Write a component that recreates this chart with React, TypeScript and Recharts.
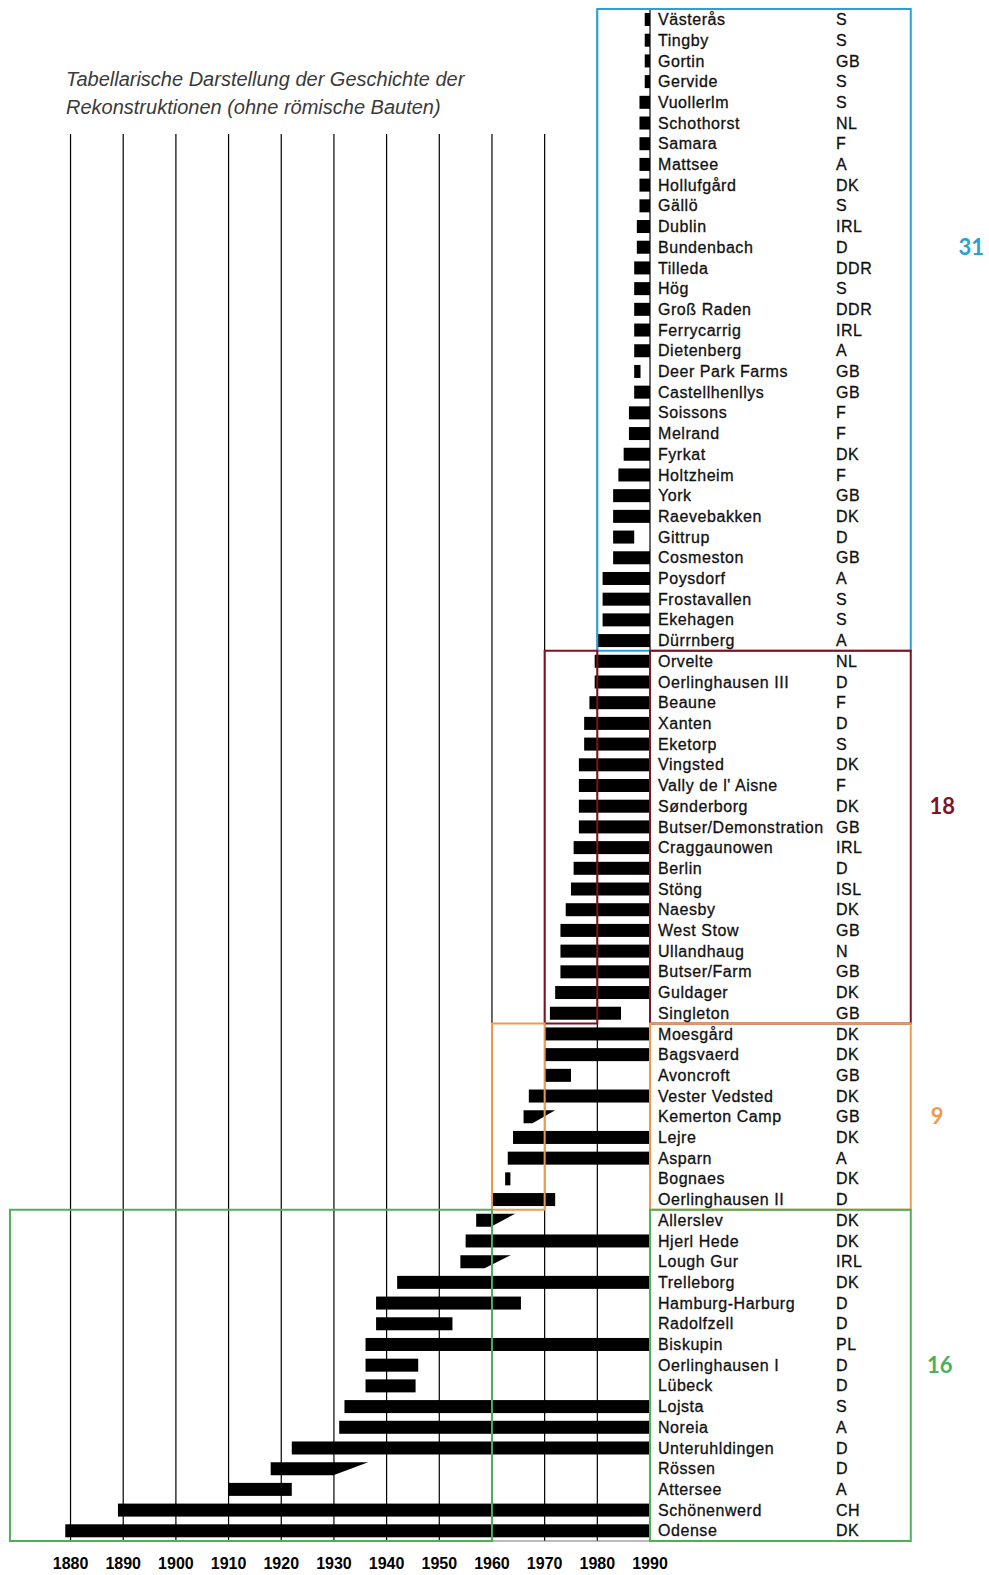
import React from 'react';
import { BarChart, Bar, XAxis, YAxis, CartesianGrid, ReferenceArea, ReferenceDot } from 'recharts';

// Reconstructed open-air sites, top to bottom as printed
const SITES = [
  'Västerås', 'Tingby', 'Gortin', 'Gervide', 'Vuollerlm', 'Schothorst', 'Samara', 'Mattsee', 'Hollufgård', 'Gällö',
  'Dublin', 'Bundenbach', 'Tilleda', 'Hög', 'Groß Raden', 'Ferrycarrig', 'Dietenberg', 'Deer Park Farms', 'Castellhenllys', 'Soissons',
  'Melrand', 'Fyrkat', 'Holtzheim', 'York', 'Raevebakken', 'Gittrup', 'Cosmeston', 'Poysdorf', 'Frostavallen', 'Ekehagen',
  'Dürrnberg',
  'Orvelte', 'Oerlinghausen III', 'Beaune', 'Xanten', 'Eketorp', 'Vingsted', "Vally de l' Aisne", 'Sønderborg', 'Butser/Demonstration',
  'Craggaunowen', 'Berlin', 'Stöng', 'Naesby', 'West Stow', 'Ullandhaug', 'Butser/Farm', 'Guldager', 'Singleton',
  'Moesgård', 'Bagsvaerd', 'Avoncroft', 'Vester Vedsted', 'Kemerton Camp', 'Lejre', 'Asparn', 'Bognaes', 'Oerlinghausen II',
  'Allerslev', 'Hjerl Hede', 'Lough Gur', 'Trelleborg', 'Hamburg-Harburg', 'Radolfzell', 'Biskupin', 'Oerlinghausen I', 'Lübeck', 'Lojsta',
  'Noreia', 'Unteruhldingen', 'Rössen', 'Attersee', 'Schönenwerd', 'Odense',
];

const COUNTRIES = [
  'S', 'S', 'GB', 'S', 'S', 'NL', 'F', 'A', 'DK', 'S',
  'IRL', 'D', 'DDR', 'S', 'DDR', 'IRL', 'A', 'GB', 'GB', 'F',
  'F', 'DK', 'F', 'GB', 'DK', 'D', 'GB', 'A', 'S', 'S',
  'A',
  'NL', 'D', 'F', 'D', 'S', 'DK', 'F', 'DK', 'GB',
  'IRL', 'D', 'ISL', 'DK', 'GB', 'N', 'GB', 'DK', 'GB',
  'DK', 'DK', 'GB', 'DK', 'GB', 'DK', 'A', 'DK', 'D',
  'DK', 'DK', 'IRL', 'DK', 'D', 'D', 'PL', 'D', 'D', 'S',
  'A', 'D', 'D', 'A', 'CH', 'DK',
];

const START_YEARS = [
  1989, 1989, 1989, 1989, 1988, 1988, 1988, 1988, 1988, 1988,
  1987.5, 1987.5, 1987, 1987, 1987, 1987, 1987, 1987, 1987, 1986,
  1986, 1985, 1984, 1983, 1983, 1983, 1983, 1981, 1981, 1981,
  1980,
  1979.5, 1979.5, 1978.5, 1977.5, 1977.5, 1976.5, 1976.5, 1976.5, 1976.5,
  1975.5, 1975.5, 1975, 1974, 1973, 1973, 1973, 1972, 1971,
  1970, 1970, 1970, 1967, 1966, 1964, 1963, 1962.5, 1960,
  1957, 1955, 1954, 1942, 1938, 1938, 1936, 1936, 1936, 1932,
  1931, 1922, 1918, 1910, 1889, 1879,
];

const END_YEARS = [
  1990, 1990, 1990, 1990, 1990, 1990, 1990, 1990, 1990, 1990,
  1990, 1990, 1990, 1990, 1990, 1990, 1990, 1988.2, 1990, 1990,
  1990, 1990, 1990, 1990, 1990, 1987, 1990, 1990, 1990, 1990,
  1990,
  1990, 1990, 1990, 1990, 1990, 1990, 1990, 1990, 1990,
  1990, 1990, 1990, 1990, 1990, 1990, 1990, 1990, 1984.5,
  1990, 1990, 1975, 1990, 1967.7, 1990, 1990, 1963.5, 1972,
  1959.8, 1990, 1958.6, 1990, 1965.5, 1952.5, 1990, 1946, 1945.5, 1990,
  1990, 1990, 1929.9, 1922, 1990, 1990,
];

// sites whose bar tapers off after the solid part
const FADE_OUT: Record<string, number> = {
  'Kemerton Camp': 1972,
  Allerslev: 1964.4,
  'Lough Gur': 1963.6,
  'Rössen': 1936.5,
};

const YEAR_TICKS = [1880, 1890, 1900, 1910, 1920, 1930, 1940, 1950, 1960, 1970, 1980, 1990];

const GROUP_COUNTS = [31, 18, 9, 16];
const GROUP_FIRST = ['Västerås', 'Orvelte', 'Moesgård', 'Allerslev'];
const GROUP_LAST = ['Dürrnberg', 'Singleton', 'Oerlinghausen II', 'Odense'];
const GROUP_COLORS = ['#2aa0d8', '#7d1426', '#ee9a4e', '#4caf5c'];

const rows = SITES.map((site, i) => ({
  site,
  country: COUNTRIES[i],
  start: START_YEARS[i],
  solidEnd: END_YEARS[i],
  span: [START_YEARS[i], FADE_OUT[site] ?? END_YEARS[i]],
}));

const LABEL_FONT = "'Liberation Sans', Arial, Helvetica, sans-serif";
const COUNT_FONT = "Lato, 'Open Sans', sans-serif";

const SiteTick = (props: any) => {
  const { x, y, payload } = props;
  const row = rows.find((r) => r.site === payload.value);
  const common = {
    y,
    dy: '0.36em',
    fontFamily: LABEL_FONT,
    fontSize: 16,
    letterSpacing: 0.55,
    fill: '#111',
    stroke: '#111',
    strokeWidth: 0.3,
  };
  return (
    <g>
      <text x={x + 8} {...common}>
        {payload.value}
      </text>
      <text x={x + 186} {...common}>
        {row ? row.country : ''}
      </text>
    </g>
  );
};

const SpanShape = (props: any) => {
  const { x, y, width, height, payload } = props;
  if (width == null || height == null) return null;
  const [s, e] = payload.span;
  if (payload.solidEnd < e) {
    const xs = x + (width * (payload.solidEnd - s)) / (e - s);
    return (
      <polygon
        points={`${x},${y} ${x + width},${y} ${xs},${y + height} ${x},${y + height}`}
        fill="#000"
      />
    );
  }
  return <rect x={x} y={y} width={width} height={height} fill="#000" />;
};

const boxProps = {
  fill: 'none',
  fillOpacity: 0,
  strokeWidth: 2,
  ifOverflow: 'visible' as const,
  zIndex: 1000,
};

export default function App() {
  return (
    <div style={{ position: 'absolute', left: 0, top: 0, width: 989, height: 1575, background: '#fff' }}>
      {/* title block sits on white paper above the decade lines */}
      <div
        style={{
          position: 'absolute',
          left: 0,
          top: 0,
          width: 575,
          height: 134,
          boxSizing: 'border-box',
          paddingLeft: 66,
          paddingTop: 65,
          background: '#fff',
          fontFamily: LABEL_FONT,
          fontStyle: 'italic',
          fontSize: 20,
          lineHeight: '28px',
          color: '#3a3a3a',
          zIndex: 2,
        }}
      >
        Tabellarische Darstellung der Geschichte der
        <br />
        Rekonstruktionen (ohne römische Bauten)
      </div>
      <BarChart
        width={989}
        height={1575}
        data={rows}
        layout="vertical"
        margin={{ top: 9, right: 0, bottom: 0, left: 60 }}
        barSize={13}
      >
        <CartesianGrid horizontal={false} verticalValues={YEAR_TICKS} stroke="#000" strokeWidth={1.2} />
        <XAxis
          type="number"
          domain={[1878, 1990]}
          ticks={YEAR_TICKS}
          allowDataOverflow
          height={34}
          tickSize={0}
          tickMargin={17}
          axisLine={{ stroke: '#777' }}
          tick={{
            fill: '#000',
            fontSize: 16,
            fontWeight: 700,
            fontFamily: "'Liberation Sans Narrow', 'Liberation Sans', Arial, sans-serif",
          }}
        />
        <YAxis
          type="category"
          dataKey="site"
          orientation="right"
          width={339}
          interval={0}
          tickSize={0}
          tickMargin={0}
          axisLine={false}
          tickLine={false}
          tick={<SiteTick />}
        />
        <Bar dataKey="span" isAnimationActive={false} shape={<SpanShape />} />
        <ReferenceArea x1={1980} x2={2039.5} y1={GROUP_FIRST[0]} y2={GROUP_LAST[0]} stroke={GROUP_COLORS[0]} {...boxProps} />
        <ReferenceArea x1={1970} x2={1980} y1={GROUP_FIRST[1]} y2={GROUP_LAST[1]} stroke={GROUP_COLORS[1]} {...boxProps} />
        <ReferenceArea x1={1960} x2={1970} y1={GROUP_FIRST[2]} y2={GROUP_LAST[2]} stroke={GROUP_COLORS[2]} {...boxProps} />
        <ReferenceArea x1={1868.5} x2={1960} y1={GROUP_FIRST[3]} y2={GROUP_LAST[3]} stroke={GROUP_COLORS[3]} {...boxProps} />
        {[1, 2, 3].map((g) => (
          <ReferenceArea
            key={`lab-${g}`}
            x1={1990}
            x2={2039.5}
            y1={GROUP_FIRST[g]}
            y2={GROUP_LAST[g]}
            stroke={GROUP_COLORS[g]}
            {...boxProps}
          />
        ))}
        <ReferenceDot
          x={2051}
          y="Bundenbach"
          r={0}
          ifOverflow="visible"
          label={{ value: String(GROUP_COUNTS[0]), position: 'center', fill: GROUP_COLORS[0], fontSize: 22, fontWeight: 700, fontFamily: COUNT_FONT }}
        />
        <ReferenceDot
          x={2045.5}
          y="Sønderborg"
          r={0}
          ifOverflow="visible"
          label={{ value: String(GROUP_COUNTS[1]), position: 'center', fill: GROUP_COLORS[1], fontSize: 22, fontWeight: 700, fontFamily: COUNT_FONT }}
        />
        <ReferenceDot
          x={2044.5}
          y="Kemerton Camp"
          r={0}
          ifOverflow="visible"
          label={{ value: String(GROUP_COUNTS[2]), position: 'center', fill: GROUP_COLORS[2], fontSize: 22, fontWeight: 700, fontFamily: COUNT_FONT }}
        />
        <ReferenceDot
          x={2045}
          y="Oerlinghausen I"
          r={0}
          ifOverflow="visible"
          label={{ value: String(GROUP_COUNTS[3]), position: 'center', fill: GROUP_COLORS[3], fontSize: 22, fontWeight: 700, fontFamily: COUNT_FONT }}
        />
      </BarChart>
    </div>
  );
}
